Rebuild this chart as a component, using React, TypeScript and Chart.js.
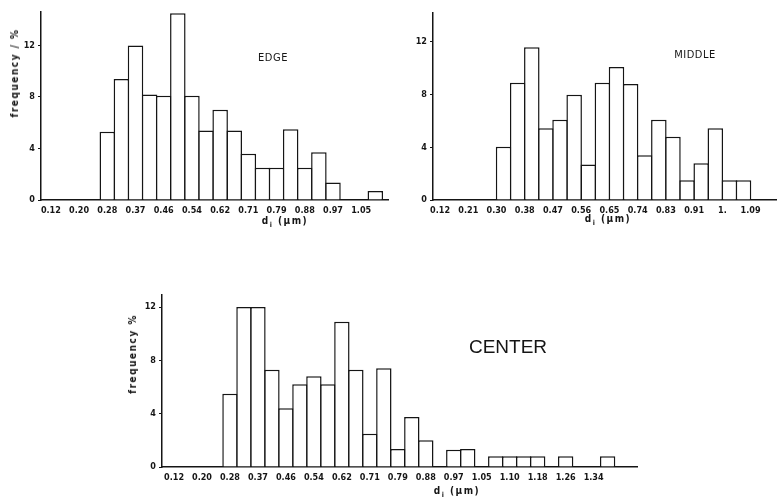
import React, { useEffect, useRef } from "react";
import { Chart, registerables } from "chart.js";
Chart.register(...registerables);

// ---------- DATA ----------
const edgeLabels = ["0.12", "", "0.20", "", "0.28", "", "0.37", "", "0.46", "", "0.54", "", "0.62", "", "0.71", "", "0.79", "", "0.88", "", "0.97", "", "1.05", ""];
const edgeValues = [0, 0, 0, 0, 5.3, 9.4, 12.0, 8.2, 8.1, 14.5, 8.1, 5.4, 7.0, 5.4, 3.6, 2.5, 2.5, 5.5, 2.5, 3.7, 1.35, 0, 0, 0.7];

const middleLabels = ["0.12", "", "0.21", "", "0.30", "", "0.38", "", "0.47", "", "0.56", "", "0.65", "", "0.74", "", "0.83", "", "0.91", "", "1.", "", "1.09", ""];
const middleValues = [0, 0, 0, 0, 4.05, 8.9, 11.6, 5.45, 6.1, 8.0, 2.7, 8.9, 10.1, 8.8, 3.4, 6.1, 4.8, 1.5, 2.8, 5.45, 1.5, 1.5, 0, 0];

const centerLabels = ["0.12", "", "0.20", "", "0.28", "", "0.37", "", "0.46", "", "0.54", "", "0.62", "", "0.71", "", "0.79", "", "0.88", "", "0.97", "", "1.05", "", "1.10", "", "1.18", "", "1.26", "", "1.34", "", ""];
const centerValues = [0, 0, 0, 0, 5.5, 12.0, 12.0, 7.3, 4.4, 6.2, 6.8, 6.2, 10.9, 7.3, 2.5, 7.4, 1.35, 3.75, 2.0, 0, 1.3, 1.35, 0, 0.8, 0.8, 0.8, 0.8, 0, 0.8, 0, 0, 0.8, 0];

const yTickValues = [0, 4, 8, 12];

// ---------- STYLE ----------
const INK = "#151515";
const NARROW = "'Liberation Sans Narrow', 'DejaVu Sans Condensed', 'Liberation Sans', sans-serif";
const tickFont = { family: NARROW, size: 9, weight: "bold" as const };

type PanelProps = {
  labels: string[];
  values: number[];
  tickShift: number;
  left: number;
  top: number;
  width: number;
  height: number;
  yAxisWidth: number;
  xAxisHeight: number;
  padTop: number;
  padRight: number;
  xMin: number;
  xMax: number;
  yMax: number;
};

function Panel(p: PanelProps) {
  const ref = useRef<HTMLCanvasElement>(null);
  useEffect(() => {
    const tickIdx = p.labels.map((l, i) => (l ? i : -1)).filter((i) => i >= 0);
    const chart = new Chart(ref.current as HTMLCanvasElement, {
      type: "bar",
      data: {
        datasets: [
          {
            data: p.values.map((v, i) => ({ x: i, y: v })),
            backgroundColor: "#ffffff",
            borderColor: INK,
            borderWidth: 1.5,
            barPercentage: 1.1,
            categoryPercentage: 1,
            inflateAmount: 0,
          } as any,
        ],
      },
      options: {
        animation: false,
        responsive: false,
        maintainAspectRatio: false,
        events: [],
        layout: { padding: { top: p.padTop, right: p.padRight, left: 0, bottom: 0 } },
        plugins: { legend: { display: false }, tooltip: { enabled: false }, title: { display: false } },
        scales: {
          x: {
            type: "linear",
            min: p.xMin,
            max: p.xMax,
            offset: false,
            grid: { display: false, drawTicks: false },
            border: { display: true, color: INK, width: 1.5 },
            afterBuildTicks: (s: any) => {
              s.ticks = tickIdx.map((i) => ({ value: i + p.tickShift }));
            },
            ticks: {
              autoSkip: false,
              maxRotation: 0,
              minRotation: 0,
              padding: 5,
              color: INK,
              font: tickFont,
              callback: (v: any) => p.labels[Math.round(Number(v) - p.tickShift)] ?? "",
            },
            afterFit: (s: any) => {
              s.height = p.xAxisHeight;
            },
          },
          y: {
            type: "linear",
            min: 0,
            max: p.yMax,
            grid: { display: true, drawOnChartArea: false, drawTicks: true, tickLength: 3, color: INK, lineWidth: 1 },
            border: { display: true, color: INK, width: 1.5 },
            afterBuildTicks: (s: any) => {
              s.ticks = yTickValues.map((v) => ({ value: v }));
            },
            ticks: { padding: 3, color: INK, font: tickFont },
            afterFit: (s: any) => {
              s.width = p.yAxisWidth;
            },
          },
        },
      } as any,
    });
    return () => chart.destroy();
  }, []);
  return (
    <canvas
      ref={ref}
      width={p.width}
      height={p.height}
      style={{ position: "absolute", left: p.left, top: p.top, width: p.width, height: p.height }}
    />
  );
}

function Txt(props: { x: number; y: number; rotate?: boolean; style?: React.CSSProperties; children: React.ReactNode }) {
  return (
    <div
      style={{
        position: "absolute",
        left: props.x,
        top: props.y,
        transform: `translate(-50%, -50%)${props.rotate ? " rotate(-90deg)" : ""}`,
        whiteSpace: "nowrap",
        color: INK,
        lineHeight: 1,
        ...props.style,
      }}
    >
      {props.children}
    </div>
  );
}

const axisTitle: React.CSSProperties = { fontFamily: NARROW, fontWeight: "bold", fontSize: 10, letterSpacing: 1.5 };
const tagStyle: React.CSSProperties = { fontFamily: NARROW, fontSize: 11, letterSpacing: 0.5 };

export default function App() {
  return (
    <div style={{ position: "absolute", left: 0, top: 0, width: 778, height: 504, background: "#fff", overflow: "hidden" }}>
      <Panel
        labels={edgeLabels}
        values={edgeValues}
        tickShift={0}
        left={0}
        top={0}
        width={395}
        height={225}
        yAxisWidth={41}
        xAxisHeight={25}
        padTop={12}
        padRight={7}
        xMin={-0.7}
        xMax={23.9}
        yMax={14.6}
      />
      <Panel
        labels={middleLabels}
        values={middleValues}
        tickShift={-0.5}
        left={390}
        top={0}
        width={388}
        height={225}
        yAxisWidth={43}
        xAxisHeight={25}
        padTop={13}
        padRight={2}
        xMin={-1.0}
        xMax={23.3}
        yMax={14.2}
      />
      <Panel
        labels={centerLabels}
        values={centerValues}
        tickShift={0}
        left={120}
        top={280}
        width={520}
        height={210}
        yAxisWidth={42}
        xAxisHeight={23}
        padTop={15}
        padRight={3}
        xMin={-0.86}
        xMax={33.1}
        yMax={12.9}
      />

      <Txt x={15} y={73} rotate style={axisTitle}>frequency / %</Txt>
      <Txt x={133} y={354} rotate style={axisTitle}>frequency %</Txt>

      <Txt x={285} y={222} style={axisTitle}>
        d<sub style={{ fontSize: 7 }}>i</sub> (μm)
      </Txt>
      <Txt x={608} y={220} style={axisTitle}>
        d<sub style={{ fontSize: 7 }}>i</sub> (μm)
      </Txt>
      <Txt x={457} y={492} style={axisTitle}>
        d<sub style={{ fontSize: 7 }}>i</sub> (μm)
      </Txt>

      <Txt x={273} y={57} style={tagStyle}>EDGE</Txt>
      <Txt x={695} y={54} style={tagStyle}>MIDDLE</Txt>
      <Txt x={508} y={346} style={{ fontFamily: "'Liberation Sans', Arial, sans-serif", fontSize: 19 }}>CENTER</Txt>
    </div>
  );
}
